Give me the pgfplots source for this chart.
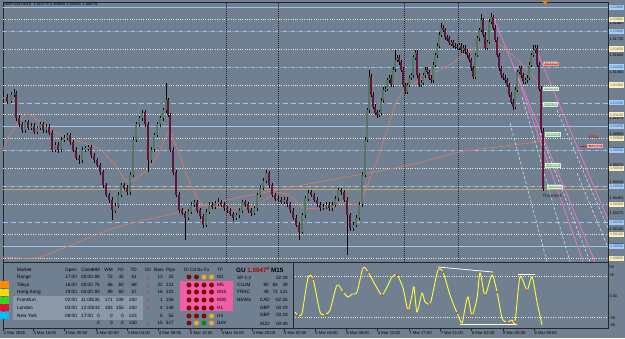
\documentclass[border=0pt]{standalone}
\usepackage{pgfplots}
\pgfplotsset{compat=1.18}
\usepackage{pgfplotstable}
\usepackage{fontspec}
\setmainfont{Liberation Sans}
\definecolor{bg}{RGB}{112,128,144}
\definecolor{lblue}{RGB}{155,195,235}
\definecolor{wdot}{RGB}{232,232,232}
\definecolor{curr}{RGB}{205,160,90}
\definecolor{ma}{RGB}{210,125,105}
\definecolor{pinkl}{RGB}{232,120,200}
\definecolor{bull}{RGB}{85,118,95}
\definecolor{bear}{RGB}{98,22,55}
\definecolor{boxblue}{RGB}{165,205,245}
\definecolor{boxbluet}{RGB}{40,90,150}
\definecolor{boxcream}{RGB}{250,238,195}
\definecolor{boxcreamt}{RGB}{110,90,50}
\definecolor{hl}{RGB}{138,152,168}
\definecolor{hotpink}{RGB}{240,95,165}
\definecolor{dred}{RGB}{125,10,10}
\definecolor{gold}{RGB}{230,175,35}
\definecolor{dgreen}{RGB}{20,130,20}
\definecolor{yel}{RGB}{255,255,60}
\definecolor{tgreen}{RGB}{145,195,145}
\definecolor{tgreenb}{RGB}{215,240,215}
\definecolor{tred}{RGB}{210,90,70}
\definecolor{stopred}{RGB}{205,50,50}
\definecolor{stoptxt}{RGB}{200,30,30}
\definecolor{oscred}{RGB}{200,40,40}
\definecolor{sw1}{RGB}{255,140,0}
\definecolor{sw2}{RGB}{255,215,0}
\definecolor{sw3}{RGB}{50,220,20}
\definecolor{sw4}{RGB}{220,20,60}
\definecolor{sw5}{RGB}{0,190,255}
\definecolor{arrred}{RGB}{190,50,50}
\definecolor{arrgreen}{RGB}{40,170,60}
\newcommand\fs[1]{\fontsize{#1}{#1}\selectfont}

\pgfplotstableread{
x o h l c
3 1.5123 1.5129 1.5120 1.5125
7 1.5125 1.5127 1.5119 1.5122
11 1.5122 1.5129 1.5120 1.5127
14 1.5127 1.5132 1.5125 1.5128
16 1.5128 1.5130 1.5105 1.5107
19 1.5107 1.5110 1.5100 1.5102
22 1.5102 1.5104 1.5095 1.5097
25 1.5097 1.5106 1.5095 1.5104
28 1.5104 1.5106 1.5097 1.5099
31 1.5099 1.5103 1.5097 1.5101
34 1.5101 1.5103 1.5094 1.5096
37 1.5096 1.5101 1.5094 1.5099
40 1.5099 1.5104 1.5097 1.5102
43 1.5102 1.5104 1.5095 1.5097
46 1.5097 1.5102 1.5095 1.5100
49 1.5100 1.5102 1.5093 1.5095
52 1.5095 1.5097 1.5079 1.5081
55 1.5081 1.5087 1.5079 1.5085
58 1.5085 1.5087 1.5078 1.5081
61 1.5081 1.5091 1.5079 1.5089
64 1.5089 1.5093 1.5087 1.5091
67 1.5091 1.5095 1.5089 1.5093
70 1.5093 1.5095 1.5085 1.5087
73 1.5087 1.5089 1.5079 1.5081
76 1.5081 1.5083 1.5072 1.5074
79 1.5074 1.5076 1.5069 1.5072
82 1.5072 1.5083 1.5070 1.5081
85 1.5081 1.5084 1.5079 1.5082
88 1.5082 1.5085 1.5080 1.5083
91 1.5083 1.5085 1.5074 1.5076
94 1.5076 1.5078 1.5070 1.5072
97 1.5072 1.5074 1.5066 1.5068
100 1.5068 1.5070 1.5060 1.5062
103 1.5062 1.5064 1.5049 1.5051
106 1.5051 1.5053 1.5041 1.5043
109 1.5043 1.5045 1.5036 1.5039
112 1.5039 1.5041 1.5022 1.5030
115 1.5030 1.5036 1.5028 1.5034
118 1.5034 1.5045 1.5032 1.5043
121 1.5043 1.5053 1.5041 1.5051
124 1.5051 1.5053 1.5047 1.5049
127 1.5049 1.5051 1.5043 1.5045
130 1.5045 1.5062 1.5043 1.5060
133 1.5060 1.5091 1.5058 1.5089
136 1.5089 1.5104 1.5087 1.5102
139 1.5102 1.5109 1.5100 1.5107
142 1.5107 1.5114 1.5105 1.5112
145 1.5112 1.5114 1.5100 1.5102
148 1.5102 1.5104 1.5062 1.5072
151 1.5072 1.5083 1.5070 1.5081
154 1.5081 1.5095 1.5079 1.5093
157 1.5093 1.5104 1.5091 1.5102
160 1.5102 1.5109 1.5100 1.5107
163 1.5107 1.5116 1.5105 1.5114
166 1.5114 1.5137 1.5112 1.5122
168 1.5122 1.5124 1.5108 1.5110
170 1.5110 1.5112 1.5079 1.5081
173 1.5081 1.5083 1.5060 1.5062
176 1.5062 1.5064 1.5041 1.5043
179 1.5043 1.5045 1.5028 1.5030
182 1.5030 1.5032 1.5026 1.5028
185 1.5028 1.5030 1.5005 1.5024
188 1.5024 1.5031 1.5022 1.5029
191 1.5029 1.5037 1.5027 1.5035
194 1.5035 1.5039 1.5033 1.5037
197 1.5037 1.5039 1.5028 1.5030
200 1.5030 1.5032 1.5023 1.5025
203 1.5025 1.5027 1.5015 1.5018
206 1.5018 1.5031 1.5016 1.5029
209 1.5029 1.5037 1.5027 1.5035
212 1.5035 1.5037 1.5031 1.5033
215 1.5033 1.5038 1.5031 1.5036
218 1.5036 1.5040 1.5034 1.5037
221 1.5037 1.5039 1.5033 1.5035
224 1.5035 1.5037 1.5030 1.5032
227 1.5032 1.5034 1.5028 1.5030
230 1.5030 1.5032 1.5025 1.5027
233 1.5027 1.5029 1.5021 1.5024
236 1.5024 1.5028 1.5022 1.5026
239 1.5026 1.5032 1.5024 1.5030
242 1.5030 1.5039 1.5028 1.5037
245 1.5037 1.5039 1.5033 1.5035
248 1.5035 1.5037 1.5028 1.5030
251 1.5030 1.5032 1.5025 1.5028
254 1.5028 1.5034 1.5026 1.5032
257 1.5032 1.5045 1.5030 1.5043
260 1.5043 1.5051 1.5041 1.5049
263 1.5049 1.5057 1.5047 1.5055
266 1.5055 1.5064 1.5053 1.5061
269 1.5061 1.5063 1.5049 1.5051
272 1.5051 1.5053 1.5041 1.5043
275 1.5043 1.5045 1.5038 1.5040
278 1.5040 1.5042 1.5037 1.5039
281 1.5039 1.5041 1.5035 1.5037
284 1.5037 1.5041 1.5035 1.5039
287 1.5039 1.5041 1.5033 1.5035
290 1.5035 1.5037 1.5028 1.5030
293 1.5030 1.5032 1.5022 1.5024
296 1.5024 1.5026 1.5016 1.5018
299 1.5018 1.5020 1.5005 1.5012
302 1.5012 1.5028 1.5010 1.5026
305 1.5026 1.5042 1.5024 1.5040
308 1.5040 1.5047 1.5038 1.5045
311 1.5045 1.5047 1.5041 1.5043
314 1.5043 1.5045 1.5037 1.5039
317 1.5039 1.5041 1.5033 1.5035
320 1.5035 1.5037 1.5030 1.5032
323 1.5032 1.5035 1.5030 1.5033
326 1.5033 1.5037 1.5031 1.5035
329 1.5035 1.5037 1.5030 1.5032
332 1.5032 1.5037 1.5030 1.5035
335 1.5035 1.5042 1.5033 1.5040
338 1.5040 1.5049 1.5038 1.5047
341 1.5047 1.5049 1.5043 1.5045
344 1.5045 1.5047 1.5037 1.5039
347 1.5039 1.5041 1.4993 1.5026
350 1.5026 1.5028 1.5013 1.5015
353 1.5015 1.5020 1.5013 1.5018
356 1.5018 1.5026 1.5016 1.5024
359 1.5024 1.5037 1.5022 1.5035
362 1.5035 1.5062 1.5033 1.5060
365 1.5060 1.5091 1.5058 1.5089
367 1.5089 1.5116 1.5087 1.5114
369 1.5114 1.5148 1.5112 1.5142
371 1.5142 1.5144 1.5125 1.5127
373 1.5127 1.5129 1.5115 1.5117
375 1.5117 1.5119 1.5110 1.5112
377 1.5112 1.5114 1.5107 1.5110
379 1.5110 1.5114 1.5108 1.5112
381 1.5112 1.5124 1.5110 1.5122
383 1.5122 1.5133 1.5120 1.5131
385 1.5131 1.5134 1.5129 1.5132
387 1.5132 1.5141 1.5130 1.5139
389 1.5139 1.5143 1.5137 1.5141
391 1.5141 1.5143 1.5133 1.5135
393 1.5135 1.5150 1.5133 1.5148
395 1.5148 1.5164 1.5146 1.5156
397 1.5156 1.5160 1.5154 1.5158
399 1.5158 1.5160 1.5152 1.5154
401 1.5154 1.5156 1.5146 1.5148
403 1.5148 1.5150 1.5133 1.5135
405 1.5135 1.5137 1.5127 1.5129
407 1.5129 1.5137 1.5127 1.5135
409 1.5135 1.5143 1.5133 1.5141
411 1.5141 1.5145 1.5139 1.5143
413 1.5143 1.5160 1.5141 1.5158
415 1.5158 1.5164 1.5156 1.5162
417 1.5162 1.5164 1.5141 1.5143
419 1.5143 1.5145 1.5133 1.5135
421 1.5135 1.5139 1.5133 1.5137
423 1.5137 1.5145 1.5135 1.5143
425 1.5143 1.5150 1.5141 1.5148
427 1.5148 1.5150 1.5144 1.5146
429 1.5146 1.5148 1.5139 1.5141
431 1.5141 1.5143 1.5137 1.5139
433 1.5139 1.5154 1.5137 1.5152
435 1.5152 1.5162 1.5150 1.5160
437 1.5160 1.5170 1.5158 1.5168
439 1.5168 1.5179 1.5166 1.5177
441 1.5177 1.5187 1.5175 1.5183
443 1.5183 1.5185 1.5179 1.5181
445 1.5181 1.5183 1.5173 1.5175
447 1.5175 1.5177 1.5172 1.5174
449 1.5174 1.5176 1.5168 1.5170
451 1.5170 1.5173 1.5168 1.5171
453 1.5171 1.5173 1.5166 1.5168
455 1.5168 1.5170 1.5165 1.5167
457 1.5167 1.5169 1.5164 1.5166
459 1.5166 1.5170 1.5164 1.5168
461 1.5168 1.5170 1.5162 1.5164
463 1.5164 1.5168 1.5162 1.5166
465 1.5166 1.5168 1.5161 1.5163
467 1.5163 1.5165 1.5158 1.5160
469 1.5160 1.5162 1.5154 1.5156
471 1.5156 1.5158 1.5147 1.5149
473 1.5149 1.5151 1.5140 1.5142
475 1.5142 1.5162 1.5140 1.5160
477 1.5160 1.5176 1.5158 1.5174
479 1.5174 1.5183 1.5172 1.5181
481 1.5181 1.5194 1.5179 1.5189
483 1.5189 1.5191 1.5175 1.5177
485 1.5177 1.5179 1.5164 1.5166
487 1.5166 1.5173 1.5164 1.5171
489 1.5171 1.5190 1.5169 1.5188
491 1.5188 1.5195 1.5186 1.5192
493 1.5192 1.5194 1.5181 1.5183
495 1.5183 1.5185 1.5171 1.5173
497 1.5173 1.5175 1.5158 1.5160
499 1.5160 1.5162 1.5147 1.5149
501 1.5149 1.5151 1.5141 1.5143
503 1.5143 1.5145 1.5139 1.5141
505 1.5141 1.5143 1.5137 1.5139
507 1.5139 1.5141 1.5133 1.5135
509 1.5135 1.5137 1.5125 1.5127
511 1.5127 1.5129 1.5119 1.5121
513 1.5121 1.5123 1.5114 1.5117
515 1.5117 1.5133 1.5115 1.5131
517 1.5131 1.5148 1.5129 1.5146
519 1.5146 1.5151 1.5144 1.5149
521 1.5149 1.5151 1.5141 1.5143
523 1.5143 1.5145 1.5136 1.5138
525 1.5138 1.5141 1.5136 1.5139
527 1.5139 1.5143 1.5137 1.5141
529 1.5141 1.5154 1.5139 1.5152
531 1.5152 1.5162 1.5150 1.5160
533 1.5160 1.5168 1.5158 1.5164
535 1.5164 1.5168 1.5162 1.5166
537 1.5166 1.5168 1.5150 1.5152
539 1.5152 1.5154 1.5130 1.5132
541 1.5132 1.5134 1.5095 1.5097
543 1.5097 1.5099 1.5046 1.50479
}\candles

\tikzset{
 bl/.style={color=lblue, line width=0.6bp},
 dashdot/.style={dash pattern=on 4bp off 1.5bp on 1bp off 1.5bp},
 dsh/.style={dash pattern=on 5bp off 3bp},
 wd/.style={color=wdot, line width=0.6bp, dash pattern=on 1bp off 1.3bp},
 vd/.style={color=black!85, line width=0.5bp, dash pattern=on 0.8bp off 1.2bp},
 pbox/.style={anchor=west, inner sep=0.3bp, minimum width=15.5bp, minimum height=5.2bp, font=\fs{3.6}, xshift=0.6bp},
 bbox/.style={pbox, fill=boxblue, text=boxbluet},
 cbox/.style={pbox, fill=boxcream, text=boxcreamt},
 tk/.style={anchor=west, inner sep=0pt, font=\fs{3.8}, text=black, xshift=1.5bp},
 gbox/.style={anchor=west, inner sep=0.4bp, fill=tgreen, draw=tgreenb, line width=0.3bp, text=white, font=\fs{3.8}},
 tb/.style={inner sep=0pt, font=\fs{4.7}, text=black},
 nomark/.style={only marks, mark=*, mark size=0bp, mark options={draw=none, fill=none}},
}

\begin{document}
\begin{tikzpicture}[x=1bp,y=1bp]
\fill[bg] (0,0) rectangle (625,338);

\begin{axis}[at={(3bp,76bp)}, anchor=south west, scale only axis,
  width=605bp, height=260bp, xmin=3, xmax=608, ymin=1.49868, ymax=1.52044,
  xtick=\empty, ytick=\empty, axis line style={black!85, line width=0.6bp},
  clip mode=individual]
% horizontal levels
\addplot[bl] coordinates {(3,1.5200)(608,1.5200)};
\addplot[bl,dashdot] coordinates {(3,1.5180)(608,1.5180)};
\addplot[bl,dashdot] coordinates {(3,1.5150)(608,1.5150)};
\addplot[bl,dsh] coordinates {(3,1.5120)(608,1.5120)};
\addplot[bl] coordinates {(3,1.5100)(608,1.5100)};
\addplot[bl,dashdot] coordinates {(3,1.5080)(608,1.5080)};
\addplot[bl,dashdot] coordinates {(3,1.5050)(608,1.5050)};
\addplot[bl,dsh] coordinates {(3,1.5020)(608,1.5020)};
\addplot[bl] coordinates {(3,1.5000)(608,1.5000)};
\addplot[wd] coordinates {(3,1.5190)(608,1.5190)};
\addplot[wd] coordinates {(3,1.5165)(608,1.5165)};
\addplot[wd] coordinates {(3,1.5135)(608,1.5135)};
\addplot[wd] coordinates {(3,1.5110)(608,1.5110)};
\addplot[wd] coordinates {(3,1.5090)(608,1.5090)};
\addplot[wd] coordinates {(3,1.5065)(608,1.5065)};
\addplot[wd] coordinates {(3,1.5035)(608,1.5035)};
\addplot[wd] coordinates {(3,1.5010)(608,1.5010)};
\addplot[wd] coordinates {(3,1.4990)(608,1.4990)};
\addplot[curr, line width=0.6bp] coordinates {(3,1.50479)(608,1.50479)};
% vertical separators
\addplot[vd] coordinates {(226,1.49868)(226,1.52044)};
\addplot[vd] coordinates {(278,1.49868)(278,1.52044)};
\addplot[vd] coordinates {(404,1.49868)(404,1.52044)};
\addplot[vd] coordinates {(458,1.49868)(458,1.52044)};
% moving averages
\addplot[ma, line width=0.7bp, smooth] coordinates {(3,1.4991)(33,1.4990)(50,1.4994)(80,1.5004)(110,1.5014)(140,1.5021)(177,1.5028)(217,1.5037)(277,1.5047)(333,1.5056)(380,1.5063)(420,1.5070)(460,1.5079)(497,1.5083)(543,1.5088)};
\addplot[ma, line width=0.7bp, smooth] coordinates {(3,1.5081)(10,1.5093)(25,1.5110)(35,1.5107)(52,1.5097)(67,1.5091)(85,1.5086)(100,1.5081)(115,1.5068)(128,1.5054)(143,1.5061)(157,1.5075)(165,1.5090)(170,1.5096)(180,1.5075)(193,1.5047)(203,1.5035)(213,1.5033)(233,1.5032)(253,1.5033)(267,1.5040)(280,1.5045)(293,1.5040)(303,1.5032)(320,1.5032)(333,1.5033)(343,1.5037)(353,1.5035)(360,1.5036)(367,1.5050)(377,1.5072)(387,1.5097)(395,1.5118)(405,1.5132)(420,1.5139)(433,1.5145)(450,1.5152)(467,1.5162)(480,1.5168)(497,1.5170)(510,1.5162)(527,1.5148)(540,1.5135)};
% channel lines
\addplot[wdot, line width=0.5bp, dash pattern=on 3bp off 2bp] coordinates {(510,1.5103)(547,1.4987)};
\addplot[wdot, line width=0.5bp, dash pattern=on 3bp off 2bp] coordinates {(522,1.5125)(570,1.4987)};
\addplot[wdot, line width=0.5bp, dash pattern=on 3bp off 2bp] coordinates {(540,1.5095)(590,1.4987)};
\addplot[wdot, line width=0.5bp, dash pattern=on 3bp off 2bp] coordinates {(557,1.5114)(608,1.5015)};
\addplot[wdot, line width=0.5bp, dash pattern=on 3bp off 2bp] coordinates {(577,1.5061)(608,1.4999)};
\addplot[pinkl, line width=0.8bp] coordinates {(492,1.5194)(595,1.4987)};
\addplot[pinkl, line width=0.8bp] coordinates {(514,1.5150)(583,1.4987)};
\addplot[pinkl, line width=0.8bp] coordinates {(535,1.5167)(608,1.5022)};
% candles: wicks
\addplot[nomark, error bars/.cd, y dir=both, y explicit, error mark=none,
  error bar style={draw=black, line width=0.45bp, solid}]
  table[x=x, y expr={(\thisrow{h}+\thisrow{l})/2}, y error expr={(\thisrow{h}-\thisrow{l})/2}] {\candles};
% bull bodies
\addplot[nomark, restrict expr to domain={(\thisrow{c}-\thisrow{o})*10000}{0:1000},
  error bars/.cd, y dir=both, y explicit, error mark=none,
  error bar style={draw=bull, line width=1.5bp, solid}]
  table[x=x, y expr={(\thisrow{o}+\thisrow{c})/2}, y error expr={abs(\thisrow{c}-\thisrow{o})/2}] {\candles};
% bear bodies
\addplot[nomark, restrict expr to domain={(\thisrow{c}-\thisrow{o})*10000}{-1000:-0.01},
  error bars/.cd, y dir=both, y explicit, error mark=none,
  error bar style={draw=bear, line width=1.5bp, solid}]
  table[x=x, y expr={(\thisrow{o}+\thisrow{c})/2}, y error expr={abs(\thisrow{c}-\thisrow{o})/2}] {\candles};

% right scale: tick numbers
\pgfplotsinvokeforeach{1.51865,1.51735,1.51600,1.51460,1.51330,1.51200,1.51070,1.50940,1.50810,1.50675,1.50540,1.50405,1.50275,1.50145,1.50010}{
  \node[tk] at (axis cs:608,#1) {#1};
}
\node[bbox] at (axis cs:608,1.5200) {1.52000};
\node[bbox] at (axis cs:608,1.5180) {1.51800};
\node[bbox] at (axis cs:608,1.5150) {1.51500};
\node[bbox] at (axis cs:608,1.5120) {1.51200};
\node[bbox] at (axis cs:608,1.5100) {1.51000};
\node[bbox] at (axis cs:608,1.5080) {1.50800};
\node[bbox] at (axis cs:608,1.5050) {1.50500};
\node[bbox] at (axis cs:608,1.5020) {1.50200};
\node[bbox] at (axis cs:608,1.5000) {1.50000};
\node[cbox] at (axis cs:608,1.5190) {1.51900};
\node[cbox] at (axis cs:608,1.5165) {1.51650};
\node[cbox] at (axis cs:608,1.5135) {1.51350};
\node[cbox] at (axis cs:608,1.5110) {1.51100};
\node[cbox] at (axis cs:608,1.5090) {1.50908};
\node[cbox] at (axis cs:608,1.5065) {1.50650};
\node[cbox] at (axis cs:608,1.5035) {1.50350};
\node[cbox] at (axis cs:608,1.5010) {1.50100};
\node[cbox] at (axis cs:608,1.4990) {1.49900};
% trade labels
\node[gbox, fill=tred, draw=tred!60!white] at (axis cs:543,1.5153) {1.51530};
\node[gbox] at (axis cs:543,1.5132) {1.51320};
\node[gbox] at (axis cs:543,1.5119) {1.51190};
\node[gbox] at (axis cs:545,1.5094) {1.50930};
\node[gbox] at (axis cs:545,1.5068) {1.50680};
\node[gbox] at (axis cs:547,1.5050) {1.50500};
\node[anchor=west, inner sep=0pt, font=\fs{5}, text=black!85] at (axis cs:543,1.5042) {Runners};
\node[anchor=west, inner sep=0pt, font=\fs{5}, text=stoptxt] at (axis cs:588,1.5091) {Stop};
\draw[stoptxt, line width=0.5bp] (axis cs:580,1.5084) -- (axis cs:587,1.5084);
\node[gbox, fill=stopred, draw=stopred!40!white] at (axis cs:587,1.5084) {1.50840};
\end{axis}

% lower panel: oscillator
\begin{axis}[at={(3bp,10bp)}, anchor=south west, scale only axis,
  width=605bp, height=66bp, xmin=3, xmax=608, ymin=-53.4, ymax=58.5,
  ytick=\empty, axis line style={black!85, line width=0.6bp},
  xtick={3.5,33.3,64.6,95.9,127.2,158.5,189.8,221.1,252.4,283.7,315,346.3,377.6,408.9,440.2,471.5,502.8,534.1},
  xticklabels={2 Mar 2018,3 Mar 16:00,3 Mar 20:00,4 Mar 00:00,4 Mar 04:00,4 Mar 08:00,4 Mar 12:00,4 Mar 16:00,4 Mar 20:00,5 Mar 00:00,5 Mar 04:00,6 Mar 08:00,6 Mar 12:00,7 Mar 17:00,7 Mar 21:00,8 Mar 01:00,8 Mar 05:00,8 Mar 09:00},
  xticklabel style={anchor=north west, font=\fs{4.2}, inner sep=0.6bp, xshift=-0.4bp},
  xtick pos=bottom, tick align=outside, major tick length=2.5bp,
  tick style={black!85, line width=0.4bp},
  clip mode=individual]
\addplot[wd] coordinates {(293,35)(608,35)};
\addplot[wd] coordinates {(293,-35)(608,-35)};
\addplot[white, line width=0.8bp] coordinates {(438,50)(493,41.5)};
\addplot[white, line width=0.8bp] coordinates {(460,-46.6)(517,-46.6)};
\addplot[white, line width=0.8bp] coordinates {(518,38.1)(535,38.1)};
\addplot[yel, line width=0.9bp, smooth, tension=0.45] coordinates {
(295,-26.3)(298,-31.4)(302,-28)(308,31.4)(313,29.7)(320,-26.3)(325,-29.7)(330,-22.9)
(337,19.5)(343,7.6)(348,-0.8)(352,4.2)(357,7.6)(363,48.3)(368,41.5)(377,14.4)(382,2.5)
(387,16.1)(392,33.1)(397,36.4)(403,14.4)(408,-22.9)(412,2.5)(414,16.1)(417,-26.3)(422,5.9)
(425,-9.3)(430,-12.7)(433,7.6)(438,44.9)(443,41.5)(450,2.5)(457,-28)(462,-44.9)(465,-19.5)
(468,-0.8)(472,-31.4)(477,-2.5)(480,39.8)(485,2.5)(492,36.4)(497,7.6)(502,-36.4)(507,-43.2)
(512,-39.8)(515,-43.2)(520,33.1)(527,11)(532,33.1)(537,-9.3)(542,-48.3)};
\addplot[only marks, mark=*, mark size=0.7bp, color=oscred] coordinates {
(298,-31.4)(313,29.7)(325,-29.7)(343,7.6)(368,41.5)(382,2.5)(397,36.4)(408,-22.9)(430,-12.7)
(443,41.5)(457,-28)(472,-31.4)(485,2.5)(497,7.6)(507,-43.2)(515,-43.2)(527,11)};
\node[anchor=west, inner sep=0pt, font=\fs{3.8}] at (axis cs:608,50) {\hspace{1.5bp}50};
\node[anchor=west, inner sep=0pt, font=\fs{3.8}] at (axis cs:608,36) {\hspace{1.5bp}35};
\node[anchor=west, inner sep=0pt, font=\fs{3.8}] at (axis cs:608,0) {\hspace{1.5bp}0.00};
\node[anchor=west, inner sep=0pt, font=\fs{3.8}] at (axis cs:608,-36) {\hspace{1.5bp}-35};
\node[anchor=west, inner sep=0pt, font=\fs{3.8}] at (axis cs:608,-49) {\hspace{1.5bp}-50};
\end{axis}

% overlay: market table
\draw[black!85, line width=0.6bp] (293,10) -- (293,76);
\fill[hl] (13,18) rectangle (143,42);
\fill[sw1] (0,50) rectangle (9,57);
\fill[sw2] (0,42) rectangle (9,49);
\fill[sw3] (0,34) rectangle (9,41);
\fill[sw4] (0,27) rectangle (9,34);
\fill[sw5] (0,19) rectangle (9,26);
\fill[hotpink] (180,27) rectangle (233,57);

\foreach \lab/\xx/\an in {Market/17/west,Open/65/west,Close/81/west,MM/100/east,WM/113/east,YD/124/east,TD/137/east,Dir/145/west,Bars/154/west,Pips/166/west,Di/184/west,Cd/190/west,Sx/197/west,Fx/204/west,TF/217/west}{
  \node[tb, anchor=\an] at (\xx,68) {\lab};
}
\foreach \yy/\nm/\op/\cl/\a/\b/\c/\d/\bars/\pips/\tf in {
 61/Range/17:00/00:00/69/72/45/61/13/25/M1,
 53/Tokyo/16:00/00:00/76/86/60/69/22/121/M5,
 46/Hong Kong/19:00/04:00/83/89/60/57/16/121/M15,
 38/Frankfurt/02:00/11:00/135/171/108/150/1/106/M30,
 30/London/03:00/12:00/143/183/155/150/4/148/H1,
 22/New York/08:00/17:00/0/0/0/123/5/55/H4,
 15/{}/{}/{}/0/0/0/150/15/527/DAY}{
  \node[tb, anchor=west] at (17,\yy) {\nm};
  \node[tb, anchor=west] at (65,\yy) {\op};
  \node[tb, anchor=west] at (81,\yy) {\cl};
  \node[tb, anchor=east] at (100,\yy) {\a};
  \node[tb, anchor=east] at (113,\yy) {\b};
  \node[tb, anchor=east] at (124,\yy) {\c};
  \node[tb, anchor=east] at (137,\yy) {\d};
  \node[tb, anchor=east] at (163,\yy) {\bars};
  \node[tb, anchor=east] at (174,\yy) {\pips};
  \node[tb, anchor=west] at (217,\yy) {\tf};
}
\foreach \yy in {61,53,46,38,30,15}{
  \node[tb, text=arrred, font=\fs{6}] at (148,\yy) {$\downarrow$};
}
\node[tb, text=arrgreen, font=\fs{6}] at (148,22) {$\uparrow$};
% signal dots
\foreach \yy/\ca/\cb/\cc/\cd in {61/dred/dred/gold/gold,53/dred/dred/dred/dred,46/dred/dred/dred/dred,38/dred/dred/dred/dred,30/dred/dred/dred/dred,22/dred/dred/dred/gold,15/dred/gold/dgreen/gold}{
  \fill[\ca] (189,\yy) circle (2.5);
  \fill[\cb] (196.5,\yy) circle (2.5);
  \fill[\cc] (204,\yy) circle (2.5);
  \fill[\cd] (211.5,\yy) circle (2.5);
}
% info block
\node[tb, anchor=west, font=\fs{6.3}\bfseries] at (236,68) {GU \textcolor{red!65!black}{1.5047\textsuperscript{9}} M15};
\node[tb, anchor=west] at (237,60) {SP 1:2};
\node[tb, anchor=east] at (288,60) {02:29};
\node[tb, anchor=west] at (237,53) {CLUM};
\node[tb, anchor=east] at (269,53) {80};
\node[tb, anchor=east] at (278,53) {83};
\node[tb, anchor=east] at (288,53) {39};
\node[tb, anchor=west] at (237,46) {FRAC};
\node[tb, anchor=east] at (269,46) {48};
\node[tb, anchor=east] at (278,46) {73};
\node[tb, anchor=east] at (288,46) {121};
\node[tb, anchor=west] at (237,38) {NEWS};
\node[tb, anchor=east] at (270,38) {CAD};
\node[tb, anchor=east] at (288,38) {-02:26};
\node[tb, anchor=east] at (270,30) {GBP};
\node[tb, anchor=east] at (288,30) {00:19};
\node[tb, anchor=east] at (270,23) {GBP};
\node[tb, anchor=east] at (288,23) {00:19};
\node[tb, anchor=east] at (270,14) {AUD};
\node[tb, anchor=east] at (288,14) {00:40};

% title and marker
\node[anchor=west, inner sep=0pt, font=\fs{4.2}, text=black] at (4,333.5) {GBPUSD,M15 \ 1.50779 1.50888 1.50461 1.50479};
\fill[orange] (542,337) -- (548,337) -- (545,333.5) -- cycle;
\end{tikzpicture}
\end{document}
